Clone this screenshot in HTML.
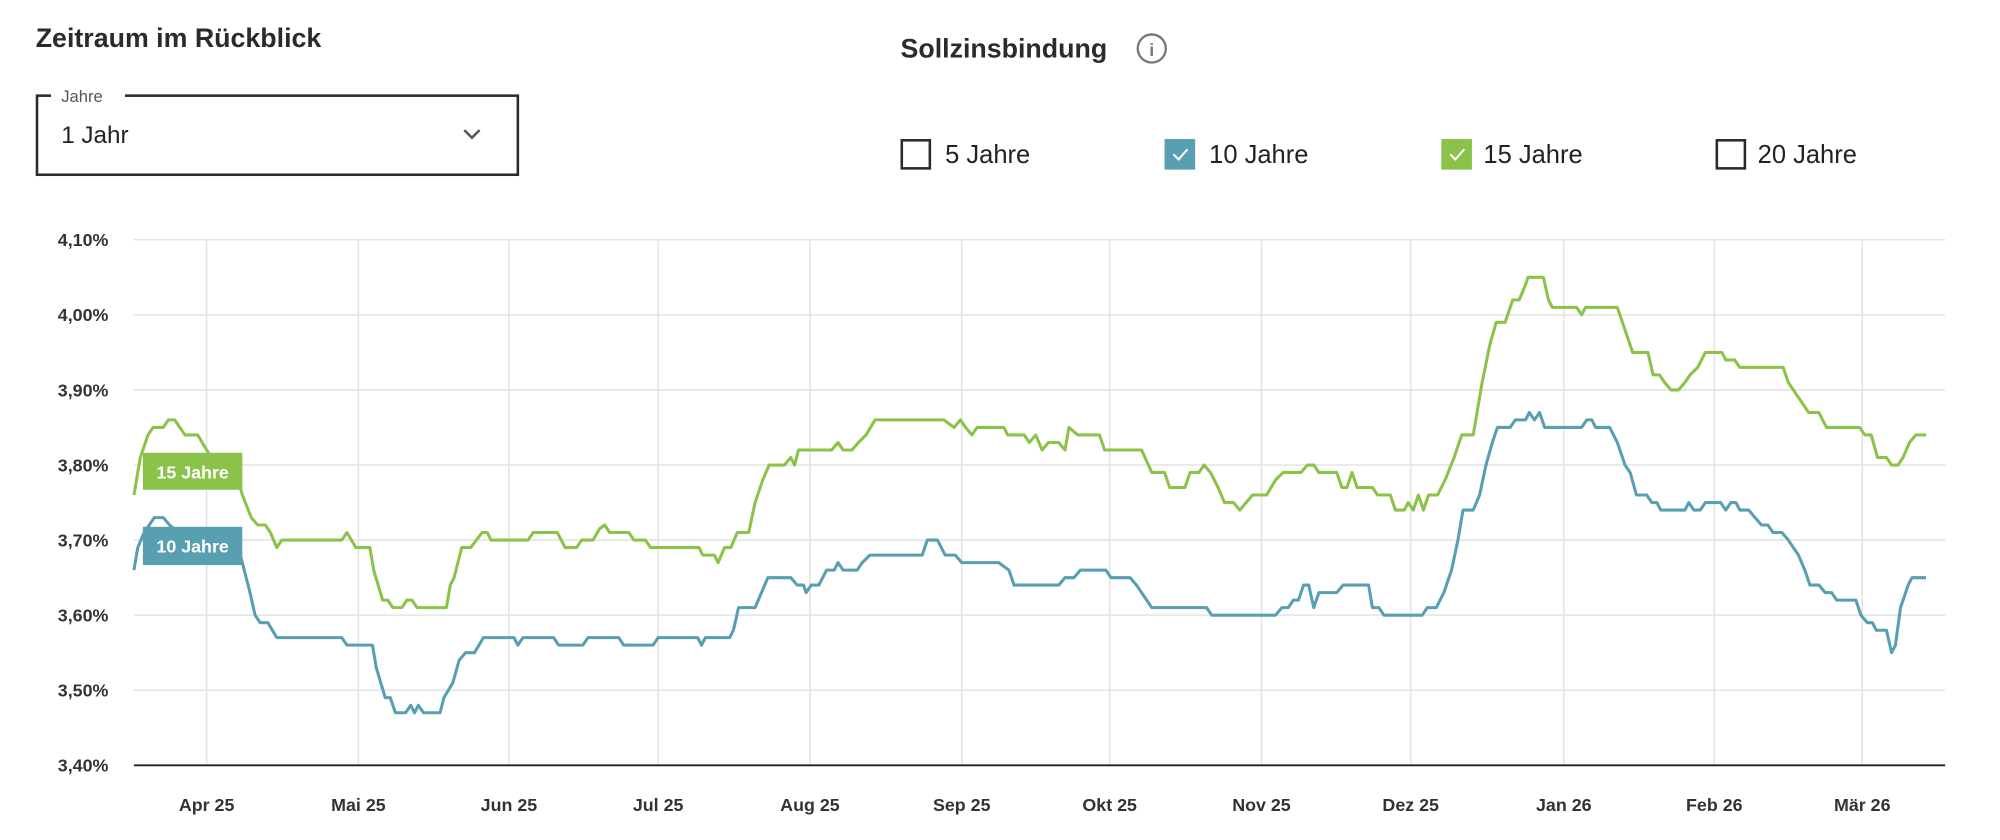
<!DOCTYPE html>
<html><head><meta charset="utf-8"><style>
html,body{margin:0;padding:0;background:#fff;}
svg{display:block;}
text{font-family:"Liberation Sans",sans-serif;}
</style></head><body>
<svg id="s" width="2000" height="840" viewBox="0 0 1568 658.56" preserveAspectRatio="none" xmlns="http://www.w3.org/2000/svg">
<text x="28" y="37" font-size="21" font-weight="bold" fill="#2b2b2b">Zeitraum im Rückblick</text>
<rect x="29" y="75" width="377" height="62" fill="none" stroke="#2b2b2b" stroke-width="2"/>
<rect x="40" y="66" width="58" height="16" fill="#fff"/>
<text x="48" y="80" font-size="13" fill="#555">Jahre</text>
<text x="48" y="112" font-size="19" fill="#222">1 Jahr</text>
<polyline points="364,102 370,108 376,102" fill="none" stroke="#555" stroke-width="2"/>
<text x="706" y="45" font-size="21" font-weight="bold" fill="#2b2b2b">Sollzinsbindung</text>
<circle cx="903" cy="38" r="11" fill="none" stroke="#777" stroke-width="1.8"/>
<text x="903" y="44" font-size="14" font-weight="bold" fill="#777" text-anchor="middle">i</text>
<rect x="707" y="110" width="22" height="22" fill="none" stroke="#2b2b2b" stroke-width="2"/>
<text x="741" y="128" font-size="20" fill="#222">5 Jahre</text>
<rect x="913" y="109" width="24" height="24" fill="#579fb1"/>
<polyline points="920,121 924,125 931,117" fill="none" stroke="#fff" stroke-width="1.6"/>
<text x="948" y="128" font-size="20" fill="#222">10 Jahre</text>
<rect x="1130" y="109" width="24" height="24" fill="#8bc34a"/>
<polyline points="1137,121 1141,125 1148,117" fill="none" stroke="#fff" stroke-width="1.6"/>
<text x="1163" y="128" font-size="20" fill="#222">15 Jahre</text>
<rect x="1346" y="110" width="22" height="22" fill="none" stroke="#2b2b2b" stroke-width="2"/>
<text x="1378" y="128" font-size="20" fill="#222">20 Jahre</text>
<g id="grid"></g>
<polyline id="g" fill="none" stroke="#8bc34a" stroke-width="2.4" stroke-linejoin="round"/>
<polyline id="t" fill="none" stroke="#579fb1" stroke-width="2.4" stroke-linejoin="round"/>
<rect x="112" y="355" width="78" height="29" fill="#8bc34a"/>
<text x="151" y="375" font-size="14" font-weight="bold" fill="#fff" text-anchor="middle">15 Jahre</text>
<rect x="112" y="413" width="78" height="30" fill="#579fb1"/>
<text x="151" y="433" font-size="14" font-weight="bold" fill="#fff" text-anchor="middle">10 Jahre</text>
<line x1="105" y1="600" x2="1525" y2="600" stroke="#222" stroke-width="1.5"/>
</svg>
<script>
var NS="http://www.w3.org/2000/svg",grid=document.getElementById('grid');
function el(n,a,txt){var e=document.createElementNS(NS,n);for(var k in a)e.setAttribute(k,a[k]);if(txt)e.textContent=txt;grid.appendChild(e);}
function Y(v){return 600-(v-3.4)/0.1*58.86;}
var ys=["3,40%","3,50%","3,60%","3,70%","3,80%","3,90%","4,00%","4,10%"];
for(var i=0;i<8;i++){var y=Y(3.4+i*0.1);if(i>0)el('line',{x1:105,y1:y,x2:1525,y2:y,stroke:'#e3e3e3','stroke-width':1.2});
el('text',{x:85,y:y+5,'font-size':14,'font-weight':'bold',fill:'#333','text-anchor':'end'},ys[i]);}
var mx=[162,281,399,516,635,754,870,989,1106,1226,1344,1460],mn=["Apr 25","Mai 25","Jun 25","Jul 25","Aug 25","Sep 25","Okt 25","Nov 25","Dez 25","Jan 26","Feb 26","Mär 26"];
for(var i=0;i<12;i++){el('line',{x1:mx[i],y1:188,x2:mx[i],y2:600,stroke:'#e3e3e3','stroke-width':1.2});
el('text',{x:mx[i],y:636,'font-size':14,'font-weight':'bold',fill:'#333','text-anchor':'middle'},mn[i]);}
var G=[105,3.76,110,3.81,116,3.84,120,3.85,128,3.85,132,3.86,137,3.86,145,3.84,155,3.84,162,3.82,170,3.80,185,3.79,190,3.76,197,3.73,202,3.72,208,3.72,212,3.71,217,3.69,221,3.70,268,3.70,272,3.71,279,3.69,290,3.69,293,3.66,300,3.62,304,3.62,308,3.61,315,3.61,319,3.62,323,3.62,327,3.61,350,3.61,353,3.64,356,3.65,362,3.69,369,3.69,378,3.71,382,3.71,385,3.70,414,3.70,418,3.71,437,3.71,443,3.69,452,3.69,456,3.70,465,3.70,470,3.715,474,3.72,478,3.71,493,3.71,497,3.70,506,3.70,510,3.69,548,3.69,551,3.68,560,3.68,563,3.67,568,3.69,573,3.69,578,3.71,587,3.71,592,3.75,598,3.78,603,3.80,615,3.80,620,3.81,623,3.80,626,3.82,652,3.82,657,3.83,661,3.82,668,3.82,673,3.83,679,3.84,686,3.86,740,3.86,748,3.85,753,3.86,757,3.85,762,3.84,766,3.85,787,3.85,790,3.84,803,3.84,807,3.83,812,3.84,817,3.82,822,3.83,830,3.83,835,3.82,838,3.85,845,3.84,862,3.84,866,3.82,895,3.82,903,3.79,913,3.79,917,3.77,929,3.77,933,3.79,940,3.79,944,3.80,949,3.79,955,3.77,960,3.75,967,3.75,972,3.74,977,3.75,982,3.76,993,3.76,1000,3.78,1006,3.79,1020,3.79,1025,3.80,1030,3.80,1034,3.79,1048,3.79,1052,3.77,1056,3.77,1060,3.79,1064,3.77,1076,3.77,1080,3.76,1090,3.76,1094,3.74,1101,3.74,1104,3.75,1108,3.74,1112,3.76,1116,3.74,1120,3.76,1127,3.76,1133,3.78,1140,3.81,1146,3.84,1155,3.84,1162,3.91,1168,3.96,1173,3.99,1180,3.99,1186,4.02,1191,4.02,1196,4.04,1198,4.05,1210,4.05,1214,4.02,1217,4.01,1236,4.01,1240,4.00,1243,4.01,1268,4.01,1274,3.98,1280,3.95,1292,3.95,1296,3.92,1301,3.92,1305,3.91,1310,3.90,1316,3.90,1321,3.91,1325,3.92,1331,3.93,1337,3.95,1350,3.95,1353,3.94,1360,3.94,1364,3.93,1398,3.93,1402,3.91,1410,3.89,1418,3.87,1426,3.87,1432,3.85,1458,3.85,1462,3.84,1467,3.84,1472,3.81,1479,3.81,1483,3.80,1488,3.80,1492,3.81,1497,3.83,1502,3.84,1510,3.84];
var T=[105,3.66,108,3.69,113,3.71,117,3.72,121,3.73,128,3.73,133,3.72,140,3.71,185,3.70,190,3.67,196,3.63,200,3.60,204,3.59,210,3.59,217,3.57,268,3.57,272,3.56,292,3.56,295,3.53,302,3.49,306,3.49,310,3.47,318,3.47,322,3.48,325,3.47,328,3.48,332,3.47,345,3.47,348,3.49,355,3.51,360,3.54,365,3.55,372,3.55,379,3.57,403,3.57,406,3.56,410,3.57,434,3.57,438,3.56,457,3.56,461,3.57,485,3.57,489,3.56,512,3.56,516,3.57,547,3.57,550,3.56,553,3.57,572,3.57,575,3.58,579,3.61,592,3.61,597,3.63,602,3.65,620,3.65,625,3.64,630,3.64,632,3.63,636,3.64,642,3.64,648,3.66,654,3.66,657,3.67,661,3.66,672,3.66,676,3.67,682,3.68,723,3.68,727,3.70,735,3.70,741,3.68,749,3.68,754,3.67,783,3.67,791,3.66,795,3.64,830,3.64,835,3.65,842,3.65,847,3.66,867,3.66,871,3.65,886,3.65,891,3.64,899,3.62,903,3.61,946,3.61,950,3.60,1000,3.60,1005,3.61,1010,3.61,1014,3.62,1018,3.62,1022,3.64,1026,3.64,1030,3.61,1034,3.63,1048,3.63,1053,3.64,1073,3.64,1076,3.61,1081,3.61,1085,3.60,1115,3.60,1119,3.61,1126,3.61,1132,3.63,1138,3.66,1143,3.70,1147,3.74,1155,3.74,1160,3.76,1165,3.80,1170,3.83,1174,3.85,1184,3.85,1188,3.86,1196,3.86,1199,3.87,1203,3.86,1207,3.87,1211,3.85,1240,3.85,1244,3.86,1248,3.86,1251,3.85,1262,3.85,1268,3.83,1274,3.80,1278,3.79,1283,3.76,1291,3.76,1295,3.75,1299,3.75,1302,3.74,1321,3.74,1324,3.75,1328,3.74,1333,3.74,1337,3.75,1349,3.75,1353,3.74,1357,3.75,1361,3.75,1364,3.74,1371,3.74,1376,3.73,1381,3.72,1386,3.72,1390,3.71,1397,3.71,1402,3.70,1410,3.68,1415,3.66,1419,3.64,1426,3.64,1431,3.63,1436,3.63,1440,3.62,1455,3.62,1459,3.60,1464,3.59,1468,3.59,1471,3.58,1479,3.58,1483,3.55,1486,3.56,1490,3.61,1496,3.64,1499,3.65,1510,3.65];
function pts(a){var s=[];for(var i=0;i<a.length;i+=2)s.push(a[i]+","+Y(a[i+1]).toFixed(1));return s.join(" ");}
document.getElementById('g').setAttribute('points',pts(G));
document.getElementById('t').setAttribute('points',pts(T));
</script>
</body></html>
